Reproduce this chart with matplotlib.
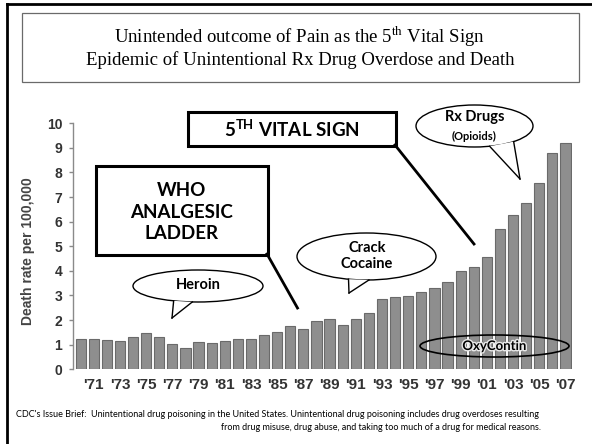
import matplotlib
matplotlib.use("Agg")
import numpy as np
import matplotlib.pyplot as plt
from matplotlib.patches import Ellipse, Polygon, Rectangle
from matplotlib.lines import Line2D
import matplotlib.patheffects as pe

# data
years = list(range(1970, 2008))
death_rate = [1.22, 1.22, 1.20, 1.17, 1.30, 1.46, 1.30, 1.02, 0.85, 1.11,
              1.08, 1.17, 1.22, 1.22, 1.38, 1.52, 1.76, 1.63, 1.98, 2.06,
              1.80, 2.05, 2.30, 2.85, 2.95, 2.98, 3.13, 3.32, 3.56, 4.00,
              4.17, 4.58, 5.69, 6.27, 6.75, 7.56, 8.80, 9.18]
tick_years = list(range(1971, 2008, 2))
tick_labels = ["'%02d" % (y % 100) for y in tick_years]
y_ticks = list(range(0, 11))

title_lines = [r"Unintended outcome of Pain as the 5$^{\mathrm{th}}$ Vital Sign",
               "Epidemic of Unintentional Rx Drug Overdose and Death"]
footer_1 = ("CDC's Issue Brief:  Unintentional drug poisoning in the United States. "
            "Unintentional drug poisoning includes drug overdoses resulting")
footer_2 = "from drug misuse, drug abuse, and taking too much of a drug for medical reasons."

W, H = 592, 444
plt.rcParams["mathtext.fontset"] = "custom"
plt.rcParams["mathtext.rm"] = "Liberation Serif"
plt.rcParams["mathtext.bf"] = "Lato:bold"

SANS_B = ["Lato", "DejaVu Sans"]
fig = plt.figure(figsize=(W / 100, H / 100), dpi=100)
fig.patch.set_facecolor("white")

# ---- bar chart ----
ax = fig.add_axes([73.3 / W, 1 - 369.3 / H, (572 - 73.3) / W, 246 / H])
x = np.arange(len(years))
ax.bar(x, death_rate, width=0.78, color="#8e8e8e", edgecolor="#6a6a6a", linewidth=0.8)
ax.set_xlim(-0.56, len(years) - 0.5)
ax.set_ylim(0, 10)
ax.set_yticks(y_ticks)
ax.set_yticklabels([str(v) for v in y_ticks], family="Liberation Sans",
                   fontweight="bold", fontsize=10, color="#333333")
ax.set_xticks([years.index(y) for y in tick_years])
ax.set_xticklabels(tick_labels, family="Liberation Sans", fontweight="bold",
                   fontsize=11, color="#333333")
for s in ["top", "right", "bottom"]:
    ax.spines[s].set_visible(False)
ax.spines["left"].set_color("#8a8a8a")
ax.spines["left"].set_linewidth(1.0)
ax.tick_params(axis="y", length=3, width=1, color="#8a8a8a", pad=5)
ax.tick_params(axis="x", length=0, pad=6)
fig.text(28 / W, 1 - 251 / H, "Death rate per 100,000", rotation=90,
         ha="center", va="center", fontsize=10, color="#444444",
         family=["Liberation Sans Narrow", "Liberation Sans"], fontweight="bold")

# ---- overlay in pixel coordinates ----
ov = fig.add_axes([0, 0, 1, 1], zorder=5)
ov.set_xlim(0, W)
ov.set_ylim(H, 0)
ov.axis("off")
ov.patch.set_alpha(0)

# outer frame and title box
ov.add_line(Line2D([7, 7], [4.5, H], color="black", lw=2))
ov.add_line(Line2D([7, W], [4.5, 4.5], color="black", lw=2))
ov.add_patch(Rectangle((22, 13), 556.7, 69, fill=False, edgecolor="#6a6a6a", lw=0.9))
ov.text(300, 37, title_lines[0], ha="center", va="center", fontsize=13.5,
        family="Liberation Serif")
ov.text(300, 60, title_lines[1], ha="center", va="center", fontsize=13.5,
        family="Liberation Serif")


def bubble(cx, cy, w, h, t1, t2, tip, lw=1.0):
    ov.add_patch(Ellipse((cx, cy), w, h, facecolor="white", edgecolor="black", lw=lw))
    pts = []
    for t in (t1, t2):
        a = np.deg2rad(t)
        pts.append((cx + w / 2 * np.cos(a), cy + h / 2 * np.sin(a)))
    ov.add_patch(Polygon([pts[0], tip, pts[1]], closed=True, facecolor="white",
                         edgecolor="none", zorder=3))
    for p in pts:
        ov.add_line(Line2D([p[0], tip[0]], [p[1], tip[1]], color="black", lw=lw, zorder=4))


bubble(198, 286, 130, 32, 112, 95, (172, 318))
ov.text(198, 285, "Heroin", ha="center", va="center", fontsize=10.5,
        family=SANS_B, fontweight="bold", zorder=6)

bubble(366.5, 256.5, 139, 47, 105, 88, (349, 293))
ov.text(367, 256, "Crack\nCocaine", ha="center", va="center", fontsize=10.5,
        family=SANS_B, fontweight="bold", linespacing=1.25, zorder=6)

bubble(474.5, 126, 117, 42, 75, 48, (520, 179))
ov.text(474.5, 117, "Rx Drugs", ha="center", va="center", fontsize=10.5,
        family=SANS_B, fontweight="bold", zorder=6)
ov.text(474.5, 136, "(Opioids)", ha="center", va="center", fontsize=8,
        family=SANS_B, fontweight="bold", zorder=6)

# OxyContin ellipse over the bars
ov.add_patch(Ellipse((494.5, 346), 149, 22, fill=False, edgecolor="black", lw=1.2))
ov.text(494.5, 346, "OxyContin", ha="center", va="center", fontsize=9.5,
        family=SANS_B, fontweight="bold", zorder=6,
        path_effects=[pe.withStroke(linewidth=2, foreground="#e8e8e8")])

# boxed labels with pointer lines
ov.add_patch(Rectangle((188, 112), 208, 34, facecolor="white", edgecolor="black", lw=2.2))
ov.text(292, 129, r"5$^{\mathbf{TH}}$ VITAL SIGN", ha="center", va="center",
        fontsize=13.5, family=SANS_B, fontweight="bold")
ov.add_line(Line2D([395, 474], [145, 244], color="black", lw=2))

ov.add_patch(Rectangle((96, 166), 172, 89, facecolor="white", edgecolor="black", lw=2.2))
ov.text(182, 212, "WHO\nANALGESIC\nLADDER", ha="center", va="center", fontsize=13.5,
        family=SANS_B, fontweight="bold", linespacing=1.3)
ov.add_line(Line2D([267, 297.5], [254, 308], color="black", lw=2))

# footer
ov.text(16, 414, footer_1, ha="left", va="center", fontsize=6.5, family="Lato")
ov.text(541, 427, footer_2, ha="right", va="center", fontsize=6.5, family="Lato")

fig.savefig("out.png", dpi=100)
